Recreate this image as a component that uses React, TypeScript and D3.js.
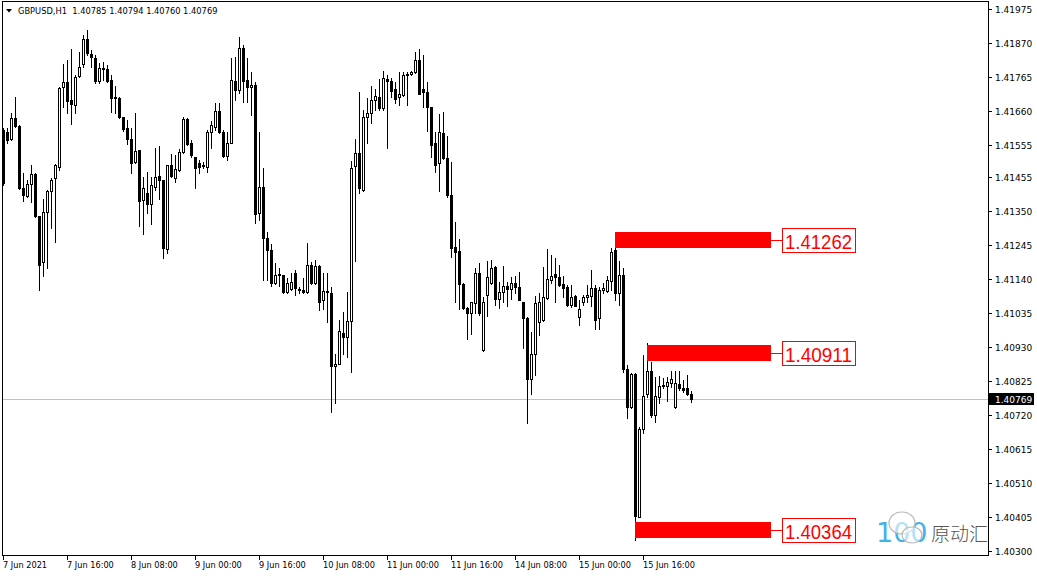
import React from "react";
import * as d3 from "d3";

// GBPUSD H1 candles (7 Jun 2021 00:00 onwards)
const opens = [
  1.41601, 1.41595, 1.41573, 1.41638, 1.41613, 1.41422, 1.41397, 1.41434, 1.41465, 1.41335,
  1.41193, 1.41348, 1.41413, 1.41453, 1.41487, 1.41734, 1.41749, 1.41694, 1.41678, 1.41768,
  1.41805, 1.41882, 1.41836, 1.41824, 1.41753, 1.41793, 1.4179, 1.41756, 1.41703, 1.417,
  1.41641, 1.41607, 1.41573, 1.41502, 1.41539, 1.41385, 1.41406, 1.41372, 1.41425, 1.41459,
  1.41447, 1.41233, 1.41493, 1.41453, 1.41477, 1.41533, 1.41635, 1.41561, 1.41518, 1.41499,
  1.41493, 1.41487, 1.41595, 1.4161, 1.4166, 1.41595, 1.41521, 1.41561, 1.41753, 1.41725,
  1.41854, 1.41756, 1.41734, 1.4174, 1.41345, 1.41425, 1.41267, 1.4123, 1.41128, 1.41153,
  1.41153, 1.411, 1.4111, 1.41159, 1.4111, 1.41107, 1.411, 1.41184, 1.41128, 1.41181,
  1.41076, 1.41104, 1.41097, 1.40872, 1.40878, 1.40974, 1.40961, 1.41011, 1.4149, 1.4153,
  1.41416, 1.41641, 1.41654, 1.41694, 1.41703, 1.41669, 1.41759, 1.41753, 1.41728, 1.41703,
  1.41709, 1.41774, 1.41774, 1.4178, 1.41817, 1.41728, 1.41719, 1.41672, 1.41561, 1.41499,
  1.41592, 1.41515, 1.414, 1.41239, 1.41227, 1.41125, 1.41051, 1.41036, 1.41066, 1.41159,
  1.40921, 1.41091, 1.41128, 1.41178, 1.41079, 1.411, 1.41119, 1.4111, 1.41128, 1.41116,
  1.41069, 1.4102, 1.40832, 1.40909, 1.41008, 1.41014, 1.41082, 1.41138, 1.41156, 1.41147,
  1.41125, 1.41116, 1.4106, 1.41088, 1.41023, 1.41069, 1.41085, 1.41088, 1.41113, 1.4102,
  1.41107, 1.41104, 1.41134, 1.4123, 1.41097, 1.41153, 1.40862, 1.40745, 1.40847, 1.40405,
  1.40677, 1.40785, 1.40856, 1.4072, 1.40776, 1.4081, 1.4081, 1.40819, 1.40745, 1.40816,
  1.40804, 1.40804, 1.40785,
];
const highs = [
  1.41607, 1.41607, 1.41654, 1.41703, 1.41617, 1.41468, 1.41447, 1.41493, 1.41468, 1.41335,
  1.41388, 1.41416, 1.41453, 1.41496, 1.41734, 1.41805, 1.41817, 1.41851, 1.41771, 1.41842,
  1.41895, 1.4191, 1.41848, 1.41833, 1.41808, 1.41811, 1.41802, 1.41771, 1.41737, 1.41703,
  1.41641, 1.41632, 1.41607, 1.41654, 1.41539, 1.41456, 1.41471, 1.41456, 1.41545, 1.41551,
  1.41447, 1.41493, 1.41527, 1.41524, 1.41542, 1.41641, 1.41638, 1.4157, 1.41518, 1.41508,
  1.41502, 1.41601, 1.41629, 1.41685, 1.41685, 1.41601, 1.41595, 1.41824, 1.41827, 1.41888,
  1.41864, 1.41824, 1.4178, 1.41749, 1.41595, 1.41483, 1.41286, 1.41249, 1.4119, 1.41175,
  1.41153, 1.41144, 1.41159, 1.41168, 1.41116, 1.41144, 1.41252, 1.41193, 1.41199, 1.41184,
  1.41159, 1.41159, 1.41116, 1.40909, 1.41014, 1.41039, 1.411, 1.41505, 1.41573, 1.41719,
  1.41663, 1.417, 1.41737, 1.41728, 1.41759, 1.41783, 1.41771, 1.41762, 1.41749, 1.4178,
  1.4178, 1.4178, 1.41783, 1.41842, 1.41851, 1.41833, 1.41749, 1.41672, 1.41595, 1.41651,
  1.41657, 1.41582, 1.41502, 1.41317, 1.41264, 1.41128, 1.41054, 1.41069, 1.41175, 1.4119,
  1.41085, 1.41196, 1.41199, 1.41181, 1.41131, 1.41181, 1.41131, 1.41147, 1.4115, 1.41162,
  1.41069, 1.41023, 1.40977, 1.41088, 1.41097, 1.41178, 1.41233, 1.41215, 1.41206, 1.41184,
  1.4115, 1.41122, 1.41122, 1.41091, 1.41076, 1.41091, 1.41122, 1.41168, 1.41122, 1.41116,
  1.41128, 1.4115, 1.41236, 1.41286, 1.41196, 1.41175, 1.40875, 1.4085, 1.4085, 1.40683,
  1.40906, 1.40943, 1.40884, 1.40838, 1.40841, 1.40835, 1.40838, 1.40856, 1.40856, 1.40856,
  1.40828, 1.40844, 1.40794,
];
const lows = [
  1.41431, 1.41561, 1.4157, 1.4161, 1.41419, 1.41382, 1.41394, 1.41379, 1.41332, 1.41107,
  1.4115, 1.41175, 1.41298, 1.41255, 1.41477, 1.41672, 1.41654, 1.4162, 1.41654, 1.41765,
  1.41796, 1.41833, 1.41796, 1.41746, 1.41746, 1.41756, 1.41749, 1.41656, 1.41654, 1.41638,
  1.41598, 1.41558, 1.41468, 1.41499, 1.41304, 1.4128, 1.41345, 1.41311, 1.41416, 1.41388,
  1.41205, 1.41221, 1.41456, 1.4144, 1.41474, 1.4153, 1.41555, 1.41518, 1.41422, 1.41468,
  1.41483, 1.41471, 1.41545, 1.41601, 1.41592, 1.41518, 1.41508, 1.41561, 1.41694, 1.41715,
  1.41688, 1.41688, 1.41647, 1.41314, 1.41323, 1.41138, 1.41138, 1.41119, 1.41125, 1.41119,
  1.41097, 1.41097, 1.41107, 1.41091, 1.41097, 1.41097, 1.41097, 1.41125, 1.41125, 1.41045,
  1.41048, 1.41008, 1.4073, 1.40757, 1.40878, 1.40909, 1.409, 1.40853, 1.41196, 1.41406,
  1.41413, 1.41561, 1.41623, 1.41663, 1.41663, 1.41663, 1.41545, 1.41703, 1.41685, 1.41678,
  1.41706, 1.41678, 1.41771, 1.41777, 1.41713, 1.41672, 1.41598, 1.41518, 1.41471, 1.41413,
  1.41511, 1.41394, 1.41208, 1.41069, 1.41048, 1.41048, 1.40955, 1.40971, 1.41036, 1.4103,
  1.40918, 1.41027, 1.41125, 1.4106, 1.41051, 1.41069, 1.41057, 1.41079, 1.41097, 1.41076,
  1.40927, 1.40696, 1.40785, 1.40844, 1.40968, 1.41011, 1.41079, 1.41128, 1.41069, 1.41119,
  1.41085, 1.41057, 1.41054, 1.41057, 1.40998, 1.4106, 1.41069, 1.41057, 1.40986, 1.40986,
  1.41097, 1.411, 1.41107, 1.41076, 1.4106, 1.40853, 1.40711, 1.40742, 1.40334, 1.40405,
  1.40665, 1.40776, 1.40714, 1.40699, 1.40757, 1.40804, 1.40763, 1.40807, 1.40742, 1.40798,
  1.40791, 1.40782, 1.4076,
];
const closes = [
  1.41437, 1.4157, 1.41638, 1.41613, 1.41422, 1.414, 1.41434, 1.41465, 1.41335, 1.41184,
  1.41348, 1.41413, 1.41447, 1.41493, 1.41731, 1.41749, 1.41691, 1.41681, 1.41765, 1.41796,
  1.41882, 1.41839, 1.41827, 1.41753, 1.41793, 1.4179, 1.41753, 1.417, 1.417, 1.41641,
  1.41604, 1.41573, 1.41499, 1.41536, 1.41382, 1.41422, 1.41372, 1.41431, 1.41456, 1.41447,
  1.41236, 1.41493, 1.41459, 1.4148, 1.41533, 1.41635, 1.41558, 1.41524, 1.41483, 1.41487,
  1.4149, 1.41595, 1.41617, 1.4166, 1.41595, 1.41521, 1.41561, 1.41756, 1.41725, 1.41854,
  1.41753, 1.41734, 1.4174, 1.41341, 1.41425, 1.41267, 1.4123, 1.41128, 1.41153, 1.41156,
  1.411, 1.41128, 1.41131, 1.41113, 1.41107, 1.411, 1.41184, 1.41128, 1.41181, 1.41069,
  1.41104, 1.411, 1.40872, 1.40878, 1.4098, 1.40961, 1.41011, 1.41483, 1.4153, 1.41422,
  1.41641, 1.41654, 1.41694, 1.41706, 1.41669, 1.41762, 1.41753, 1.41722, 1.41697, 1.41713,
  1.41771, 1.41771, 1.4178, 1.41817, 1.41713, 1.41719, 1.41672, 1.41555, 1.41493, 1.41595,
  1.41515, 1.414, 1.41236, 1.41224, 1.41125, 1.41051, 1.41036, 1.41069, 1.41159, 1.41036,
  1.41069, 1.41147, 1.41175, 1.41079, 1.411, 1.41119, 1.4111, 1.41128, 1.41116, 1.41076,
  1.4102, 1.40832, 1.40909, 1.41066, 1.41069, 1.41085, 1.41141, 1.4115, 1.41147, 1.41122,
  1.41113, 1.4106, 1.41085, 1.41057, 1.41048, 1.41085, 1.41091, 1.41113, 1.41014, 1.41107,
  1.41113, 1.41138, 1.41224, 1.41097, 1.41153, 1.40862, 1.40745, 1.40847, 1.40408, 1.40677,
  1.40779, 1.40856, 1.4072, 1.40779, 1.4081, 1.40813, 1.40822, 1.40832, 1.40819, 1.40804,
  1.40798, 1.40785, 1.40769,
];

const priceTicks = [
  1.41975, 1.4187, 1.41765, 1.4166, 1.41555, 1.41455, 1.4135, 1.41245, 1.4114,
  1.41035, 1.4093, 1.40825, 1.4072, 1.40615, 1.4051, 1.40405, 1.403,
];
const timeTickBars = [0, 16, 32, 48, 64, 80, 96, 112, 128, 144, 160];
const timeTickLabels = [
  "7 Jun 2021", "7 Jun 16:00", "8 Jun 08:00", "9 Jun 00:00", "9 Jun 16:00", "10 Jun 08:00",
  "11 Jun 00:00", "11 Jun 16:00", "14 Jun 08:00", "15 Jun 00:00", "15 Jun 16:00",
];

const levelPrices = [1.41262, 1.40911, 1.40364];
const levelStartBars = [153, 161, 158];

const symbol = "GBPUSD,H1";
const lastPrice = 1.40769;

const fmt = d3.format(".5f");

const App = () => {
  const W = 1037;
  const H = 576;
  const left = 2, right = 988, top = 1, bottom = 555;

  const x = d3.scaleLinear().domain([0, 1]).range([3, 7]);
  const y = d3.scaleLinear().domain([1.403, 1.41975]).range([551, 9]);
  const ry = (v: number) => Math.round(y(v));

  const last = opens.length - 1;
  const header = `${symbol}  ${fmt(opens[last])} ${fmt(highs[last])} ${fmt(lows[last])} ${fmt(closes[last])}`;

  const barEnd = 771;
  const boxX = 782;
  const boxW = 73;

  return (
    <svg
      width={W}
      height={H}
      style={{ position: "absolute", left: 0, top: 0, background: "#fff" }}
      fontFamily="'DejaVu Sans', sans-serif"
    >
      <rect x={0} y={0} width={W} height={H} fill="#fff" />

      {/* current price line */}
      <line x1={left} x2={right} y1={ry(lastPrice) + 0.5} y2={ry(lastPrice) + 0.5} stroke="#c0c0c0" />

      {/* candles */}
      {opens.map((o, i) => {
        const c = closes[i];
        const cx = x(i);
        const yh = ry(highs[i]);
        const yl = ry(lows[i]);
        const yt = ry(Math.max(o, c));
        const yb = ry(Math.min(o, c));
        const bull = c > o;
        return (
          <g key={i}>
            <rect x={cx} y={yh} width={1} height={yl - yh + 1} fill="#000" />
            {bull ? (
              <rect x={cx - 0.5} y={yt + 0.5} width={2} height={Math.max(yb - yt, 0)} fill="#fff" stroke="#000" strokeWidth={1} />
            ) : (
              <rect x={cx - 1} y={yt} width={3} height={yb - yt + 1} fill="#000" />
            )}
          </g>
        );
      })}

      {/* level markers */}
      {levelPrices.map((p, i) => {
        const ly = ry(p);
        const sx = x(levelStartBars[i]);
        return (
          <g key={"lv" + i}>
            <rect x={sx} y={ly - 8} width={barEnd - sx} height={16} fill="#ff0000" />
            <line x1={barEnd} x2={boxX} y1={ly + 0.5} y2={ly + 0.5} stroke="#ff0000" />
            <rect x={boxX + 0.5} y={ly - 11.5} width={boxW} height={24} fill="#fff" stroke="#ff0000" />
            <text
              x={boxX + 3}
              y={ly + 8.5}
              fill="#ff0000"
              fontSize={21}
              fontFamily="'Liberation Sans', Arial, sans-serif"
              textLength={67}
              lengthAdjust="spacingAndGlyphs"
            >
              {fmt(p)}
            </text>
          </g>
        );
      })}

      {/* watermark */}
      <g>
        <text x={876} y={542} fontSize={27} fill="#1ea5e6" opacity={0.85}>
          100
        </text>
        <ellipse cx={902} cy={523} rx={13} ry={11} fill="#fff" fillOpacity={0.6} stroke="#b8b8b8" strokeWidth={1.2} />
        <ellipse cx={912} cy={535} rx={10} ry={8} fill="#fff" fillOpacity={0.6} stroke="#b8b8b8" strokeWidth={1.2} />
        <text x={931} y={541} fontSize={19} fill="#555" fontFamily="'Noto Sans CJK SC', sans-serif" fontWeight={300}>
          原动汇
        </text>
      </g>

      {/* frame */}
      <rect x={left + 0.5} y={top + 0.5} width={right - left} height={bottom - top} fill="none" stroke="#000" />

      {/* price axis */}
      {priceTicks.map((p) => {
        const ty = ry(p);
        return (
          <g key={"pt" + p}>
            <line x1={right + 0.5} x2={right + 4} y1={ty + 0.5} y2={ty + 0.5} stroke="#000" />
            <text x={995} y={ty + 4} fontSize={9} fill="#000">
              {fmt(p)}
            </text>
          </g>
        );
      })}

      {/* last price tag */}
      <rect x={989} y={ry(lastPrice) - 6} width={45} height={12} fill="#000" />
      <text x={995} y={ry(lastPrice) + 4} fontSize={9} fill="#fff">
        {fmt(lastPrice)}
      </text>

      {/* time axis */}
      {timeTickBars.map((b, i) => {
        const tx = x(b);
        return (
          <g key={"tt" + b}>
            <line x1={tx + 0.5} x2={tx + 0.5} y1={bottom} y2={bottom + 5} stroke="#000" />
            <text x={tx} y={567.5} fontSize={8.2} fill="#000">
              {timeTickLabels[i]}
            </text>
          </g>
        );
      })}

      {/* header */}
      <path d="M6,9 L12,9 L9,12.5 Z" fill="#000" />
      <text x={18} y={14} fontSize={8.3} fill="#000" style={{ whiteSpace: "pre" }}>
        {header}
      </text>
    </svg>
  );
};

export default App;
